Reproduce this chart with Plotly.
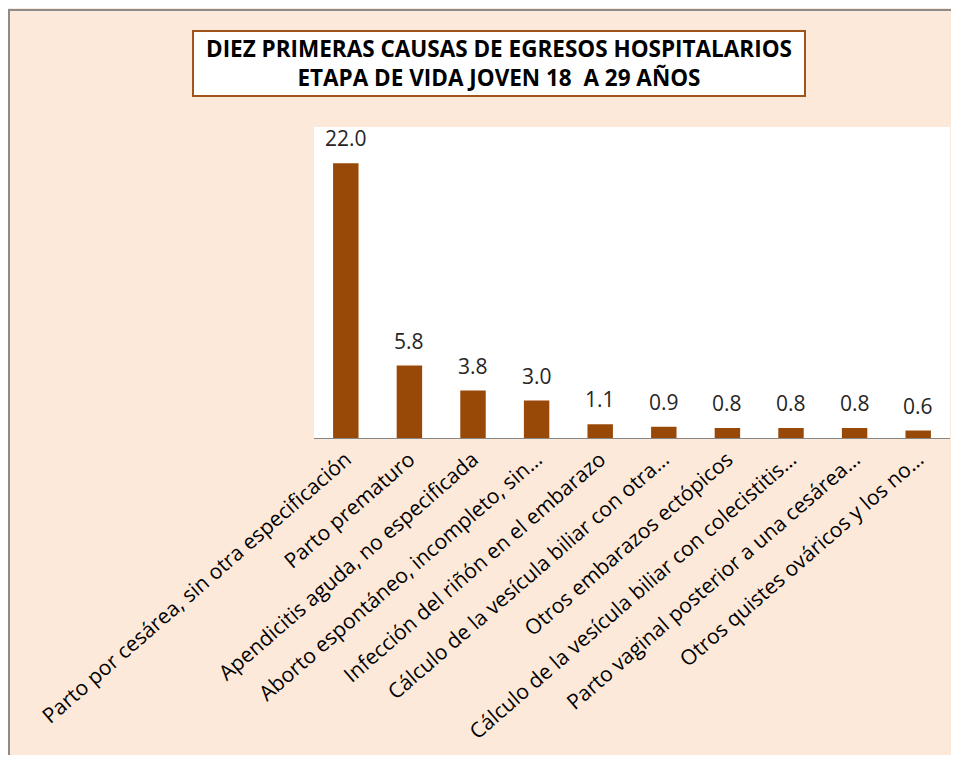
import plotly.graph_objects as go

categories = [
    "Parto por cesárea, sin otra especificación",
    "Parto prematuro",
    "Apendicitis aguda, no especificada",
    "Aborto espontáneo, incompleto, sin…",
    "Infección del riñón en el embarazo",
    "Cálculo de la vesícula biliar con otra…",
    "Otros embarazos ectópicos",
    "Cálculo de la vesícula biliar con colecistitis…",
    "Parto vaginal posterior a una cesárea…",
    "Otros quistes ováricos y los no…",
]
values = [22.0, 5.8, 3.8, 3.0, 1.1, 0.9, 0.8, 0.8, 0.8, 0.6]
title_lines = ["DIEZ PRIMERAS CAUSAS DE EGRESOS HOSPITALARIOS",
               "ETAPA DE VIDA JOVEN 18  A 29 AÑOS"]

D = 8  # page body margin offset
W, H = 959 - 2 * D, 765 - 2 * D - 2
# target page coordinates of the plot area
PL, PR, PT, PB = 314, 950, 127, 438
L, T = PL - D, PT - D
R = W - (PR - D)
B = H - (PB - D)
pw, ph = W - L - R, H - T - B

def px(x):  # page x -> paper
    return (x - PL) / pw

def py(y):  # page y -> paper
    return (PB - y) / ph

FONT = "Open Sans, Lato, Liberation Sans, sans-serif"

fig = go.Figure(go.Bar(
    x=categories, y=values,
    marker=dict(color="#984807", line=dict(width=0)),
    width=0.4,
    hoverinfo="x+y",
))

labels = [dict(x=c, y=v, xref="x", yref="y", text=f"{v:.1f}", showarrow=False,
               xanchor="center", yanchor="bottom", yshift=9,
               font=dict(family=FONT, size=21, color="#262626"))
          for c, v in zip(categories, values)]

fig.update_layout(
    width=W, height=H,
    margin=dict(l=L, r=R, t=T, b=B),
    paper_bgcolor="#FDE9D9",
    plot_bgcolor="#FFFFFF",
    showlegend=False,
    font=dict(family=FONT, color="#000000"),
    xaxis=dict(
        tickangle=-41,
        tickfont=dict(family=FONT, size=21, color="#000000"),
        showline=True, linecolor="#868686", linewidth=1,
        ticks="", showgrid=False,
    ),
    yaxis=dict(range=[0, 24.9], visible=False, showgrid=False),
    shapes=[
        dict(type="line", xref="paper", yref="paper",
             x0=px(9), x1=px(9), y0=py(10), y1=py(800),
             line=dict(color="#8C8C8C", width=2)),
        dict(type="line", xref="paper", yref="paper",
             x0=px(8), x1=px(1000), y0=py(10), y1=py(10),
             line=dict(color="#8C8C8C", width=2)),
        dict(type="rect", xref="paper", yref="paper",
             x0=px(193), x1=px(805), y0=py(96), y1=py(31),
             line=dict(color="#A0541C", width=2), fillcolor="#FFFFFF"),
    ],
    annotations=labels + [
        dict(xref="paper", yref="paper", x=px(499), y=py(63.5),
             text="<br>".join(title_lines), showarrow=False,
             font=dict(family=FONT, size=22.5, color="#000000", weight="bold"),
             xanchor="center", yanchor="middle", align="center"),
    ],
)

fig.write_html("out.html")
